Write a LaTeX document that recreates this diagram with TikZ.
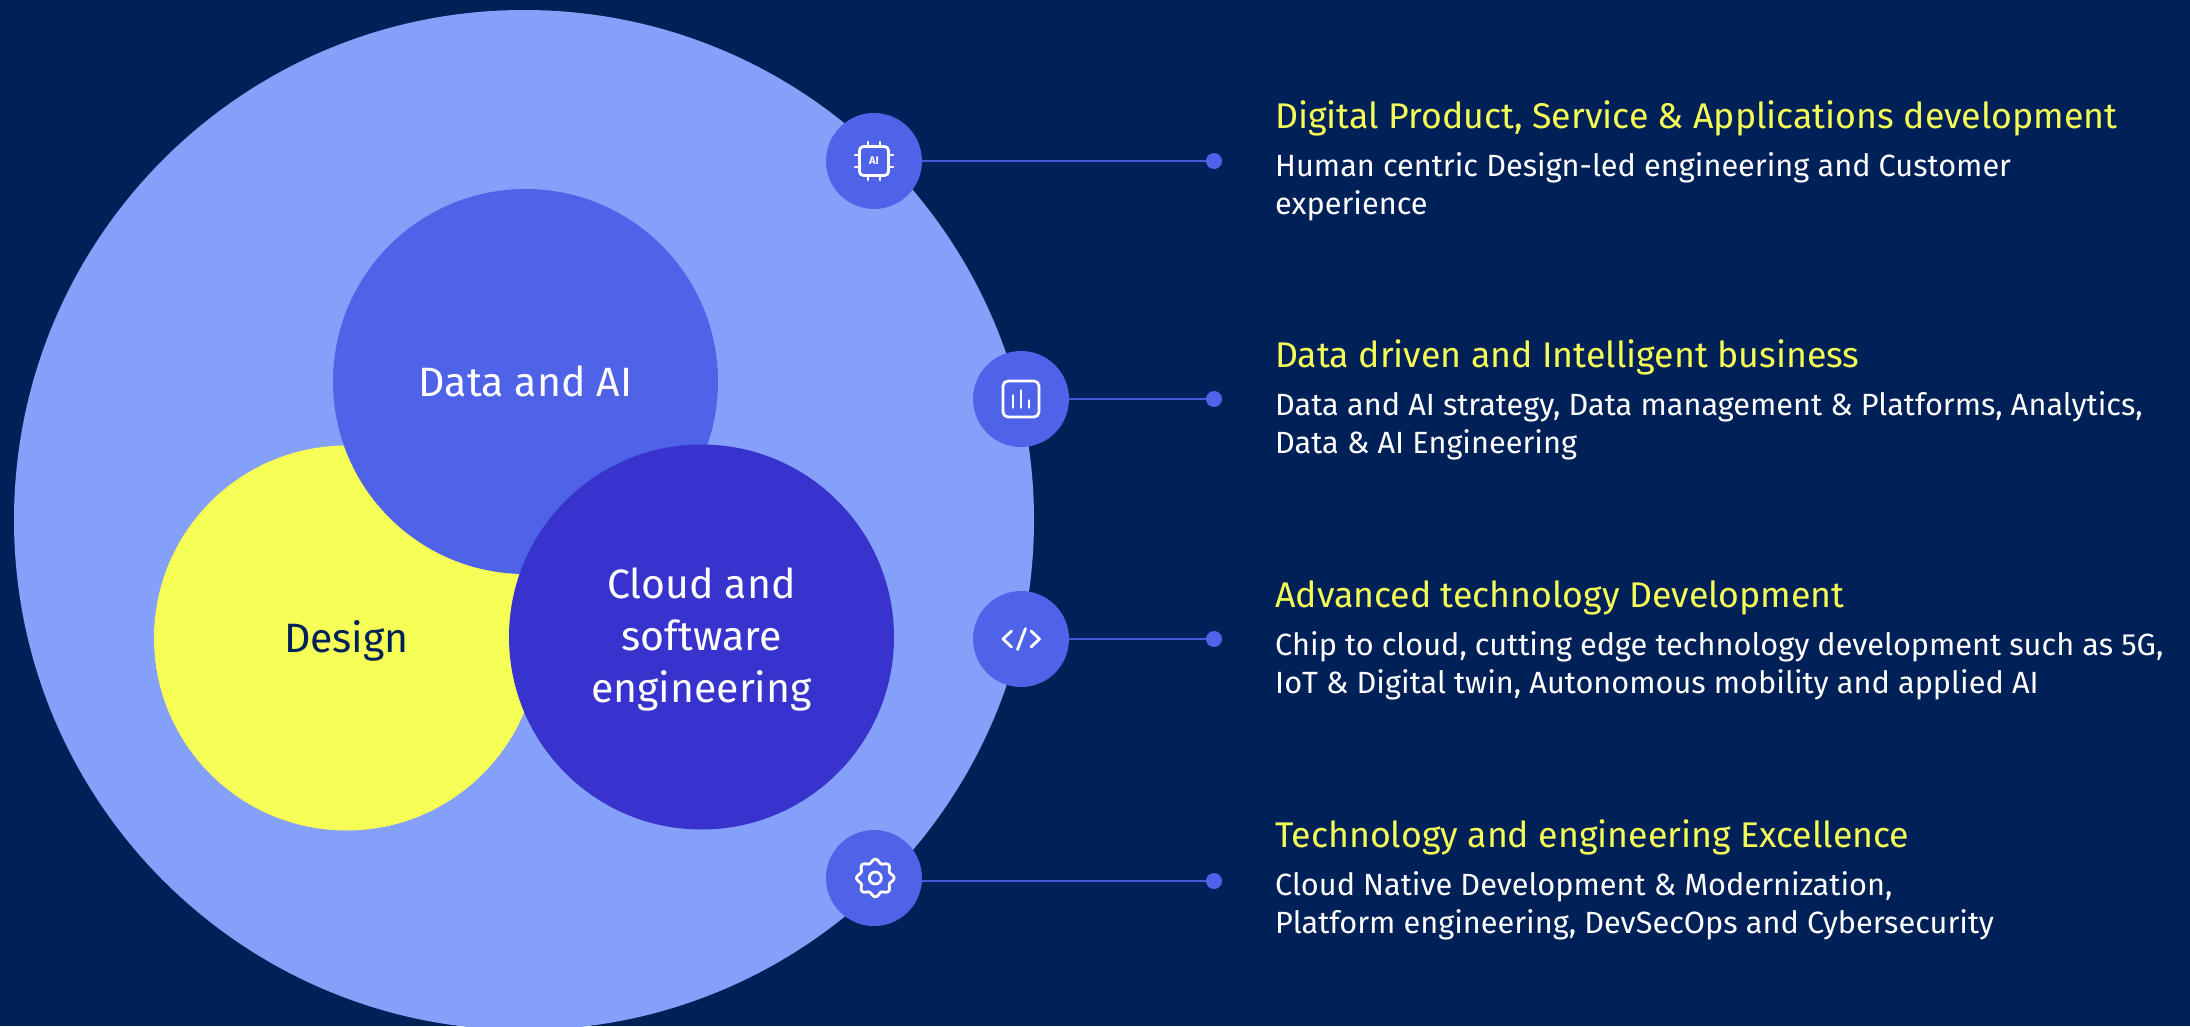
\documentclass[tikz,border=0pt]{standalone}
\usepackage{fontspec}
\setmainfont{Fira Sans}
\usetikzlibrary{positioning}
\definecolor{pagebg}{HTML}{002058}
\definecolor{outerblue}{HTML}{85A0F9}
\definecolor{midblue}{HTML}{4F63E8}
\definecolor{deepblue}{HTML}{3733CC}
\definecolor{lineblue}{HTML}{4558D8}
\definecolor{acidyellow}{HTML}{F5FF55}
\tikzset{
  disc/.style={circle,inner sep=0pt,minimum size=385pt},
  disctext/.style={align=center,text=white,font=\fontsize{41}{52}\selectfont},
  badge/.style={circle,inner sep=0pt,minimum size=96pt,fill=midblue},
  dotend/.style={circle,inner sep=0pt,minimum size=16pt,fill=midblue},
  conn/.style={draw=lineblue,line width=2pt},
  glyph/.style={draw=white,line width=2.8pt,line cap=round,line join=round},
  heading/.style={anchor=base west,inner sep=0pt,text=acidyellow,font=\fontsize{35.7}{40}\selectfont},
  detail/.style={anchor=base west,inner sep=0pt,text=white,font=\fontsize{30.7}{38}\selectfont}
}
\begin{document}
\begin{tikzpicture}[x=1pt,y=-1pt,node distance=340pt,on grid]
        \useasboundingbox (0,0) rectangle (2190,1026);
        \fill[pagebg] (0,0) rectangle (2190,1026);
        % circles
        \node[disc, minimum size=1020pt, fill=outerblue] (outer) at (524,520) {};
        \node[disc, fill=acidyellow, label={[disctext,text=pagebg,yshift=-3pt]center:Design}] (design) at (346.5,638) {};
        \node[disc, fill=midblue, label={[disctext]center:Data and AI}] (data) at (525.5,381.5) {};
        \node[disc, fill=deepblue, label={[disctext,yshift=-2pt]center:Cloud and\\software\\engineering}] (cloud) at (701.5,637) {};
        % badges and end dots
        \node[badge] (ic_0) at (874,161) {};
        \node[badge] (ic_1) at (1021,399) {};
        \node[badge] (ic_2) at (1021,639) {};
        \node[badge] (ic_3) at (874,878) {};
        \node[dotend] (dot_0) [right=of ic_0] {};
        \node[dotend] (dot_1) [right=193pt of ic_1] {};
        \node[dotend] (dot_2) [right=193pt of ic_2] {};
        \node[dotend] (dot_3) [right=of ic_3, yshift=-3pt] {};
        \draw[conn] (ic_0) -- (dot_0);
        \draw[conn] (ic_1) -- (dot_1);
        \draw[conn] (ic_2) -- (dot_2);
        \draw[conn] (ic_3.east |- dot_3) -- (dot_3);
        % icons
        \begin{scope}[shift={(ic_0)}]
          \draw[glyph, rounded corners=4pt] (-14.5,-14.5) rectangle (14.5,14.5);
          \draw[glyph] (-6,-19) -- (-6,-15) (6,-19) -- (6,-15) (-6,19) -- (-6,15) (6,19) -- (6,15);
          \draw[glyph] (-19,-6) -- (-15,-6) (-19,6) -- (-15,6) (19,-6) -- (15,-6) (19,6) -- (15,6);
          \node[text=white, inner sep=0pt, font=\bfseries\fontsize{11}{11}\selectfont] (chip) at (0,0) {AI};
        \end{scope}
        \begin{scope}[shift={(ic_1)}]
          \draw[glyph, rounded corners=5pt] (-18,-18) rectangle (18,18);
          \draw[glyph] (-8,-3.5) -- (-8,8.5) (0,-8.5) -- (0,8.5) (8,1.5) -- (8,8.5);
        \end{scope}
        \begin{scope}[shift={(ic_2)}]
          \draw[glyph] (-9.5,-8) -- (-18,0) -- (-9.5,8);
          \draw[glyph] (10,-8) -- (18.5,0) -- (10,8);
          \draw[glyph] (4.5,-10.5) -- (-3.5,10.5);
        \end{scope}
        \begin{scope}[shift={(ic_3)}, xshift=1.3pt]
          \draw[glyph] plot[domain=0:360,samples=97,smooth,variable=\a]
            ({(17+1.8*cos(8*\a))*cos(\a)},{(17+1.8*cos(8*\a))*sin(\a)}) -- cycle;
          \draw[glyph] (0,0) circle (6);
        \end{scope}
        % texts
        \node[heading] (head_0) at (1275,128) {Digital Product, Service \& Applications development};
        \node[detail] (text_0a) at (1275,176) {Human centric Design-led engineering and Customer};
        \node[detail] (text_0b) at (1275,214) {experience};
        \node[heading] (head_1) at (1275,367) {Data driven and Intelligent business};
        \node[detail] (text_1a) at (1275,415) {Data and AI strategy, Data management \& Platforms, Analytics,};
        \node[detail] (text_1b) at (1275,453) {Data \& AI Engineering};
        \node[heading] (head_2) at (1275,607) {Advanced technology Development};
        \node[detail] (text_2a) at (1275,655) {Chip to cloud, cutting edge technology development such as 5G,};
        \node[detail] (text_2b) at (1275,693) {IoT \& Digital twin, Autonomous mobility and applied AI};
        \node[heading] (head_3) at (1275,847) {Technology and engineering Excellence};
        \node[detail] (text_3a) at (1275,895) {Cloud Native Development \& Modernization,};
        \node[detail] (text_3b) at (1275,933) {Platform engineering, DevSecOps and Cybersecurity};
      \end{tikzpicture}
\end{document}
